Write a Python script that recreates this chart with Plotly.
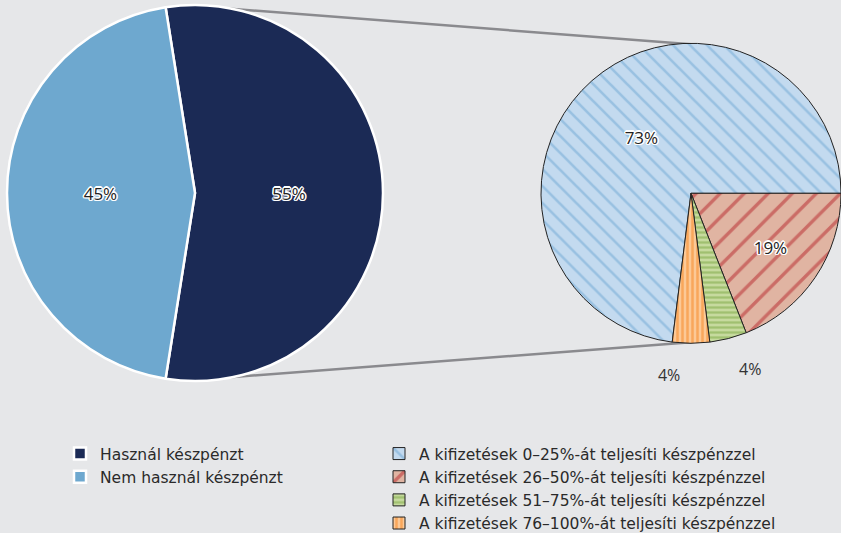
import plotly.graph_objects as go

# ---- data ----
main_labels = ["Használ készpénzt", "Nem használ készpénzt"]
main_values = [55, 45]
main_colors = ["#1b2a55", "#6ea8cf"]

sub_labels = [
    "A kifizetések 0–25%-át teljesíti készpénzzel",
    "A kifizetések 26–50%-át teljesíti készpénzzel",
    "A kifizetések 51–75%-át teljesíti készpénzzel",
    "A kifizetések 76–100%-át teljesíti készpénzzel",
]
sub_values = [73, 19, 4, 4]
sub_bg = ["#c3daef", "#e0b4a2", "#c6da9e", "#fcc996"]
sub_fg = ["#6fa8d4", "#b5232a", "#7aa542", "#f5861f"]
sub_shapes = ["\\", "/", "-", "|"]

W, H = 841, 533
BG = "#e6e7e9"
TXT = "#2a2a2a"

# pie geometry (pixels)
L_cx, L_cy, L_r = 195, 193, 188
R_x0, R_x1 = 541, 841
R_r = (R_x1 - R_x0) / 2
R_cx = (R_x0 + R_x1) / 2
R_cy = 193.3

def px_x(x):
    return x / W

def px_y(y):
    return 1 - y / H

halo = "-1px -1px 0 #fff, 1px -1px 0 #fff, -1px 1px 0 #fff, 1px 1px 0 #fff, 0 1.5px 0 #fff, 0 -1.5px 0 #fff, 1.5px 0 0 #fff, -1.5px 0 0 #fff"

fig = go.Figure()

fig.add_trace(go.Pie(
    labels=main_labels, values=main_values, sort=False, direction="clockwise",
    rotation=-9,
    marker=dict(colors=main_colors, line=dict(color="white", width=2.5)),
    textinfo="percent", textposition="inside", insidetextorientation="horizontal",
    textfont=dict(family="Open Sans", size=17, color="#222", shadow=halo),
    domain=dict(x=[px_x(L_cx - L_r), px_x(L_cx + L_r)], y=[px_y(L_cy + L_r), px_y(L_cy - L_r)]),
    legend="legend", hoverinfo="label+percent",
))

fig.add_trace(go.Pie(
    labels=sub_labels, values=sub_values, sort=False, direction="clockwise",
    rotation=360 + 90 - 360 * sub_values[0] / 100,
    marker=dict(colors=sub_bg, line=dict(color="#222", width=1),
                pattern=dict(shape=sub_shapes, fgcolor=sub_fg, fillmode="overlay",
                             size=[12, 17, 5, 5], solidity=[0.22, 0.2, 0.45, 0.5])),
    texttemplate=["%{percent}", "%{percent}", "\u00a0<br>%{percent}", "\u00a0<br>%{percent}"],
    textposition=["inside", "inside", "outside", "outside"],
    insidetextorientation="horizontal",
    insidetextfont=dict(family="Open Sans", size=17, color="#222", shadow=halo),
    outsidetextfont=dict(family="Open Sans", size=16, color="#333"),
    domain=dict(x=[px_x(R_x0), px_x(R_x1)], y=[px_y(R_cy + R_r + 2), px_y(R_cy - R_r - 2)]),
    legend="legend2", hoverinfo="label+percent",
))

line_style = dict(color="#8a8a8e", width=2.5)
fig.add_shape(type="line", xref="paper", yref="paper", layer="below",
              x0=px_x(L_cx), y0=px_y(L_cy - L_r + 1), x1=px_x(R_cx), y1=px_y(R_cy - R_r + 1),
              line=line_style)
fig.add_shape(type="line", xref="paper", yref="paper", layer="below",
              x0=px_x(L_cx), y0=px_y(L_cy + L_r - 1), x1=px_x(R_cx), y1=px_y(R_cy + R_r - 1),
              line=line_style)

legend_font = dict(family="DejaVu Sans", size=15.5, color=TXT)
fig.update_layout(
    width=W, height=H,
    margin=dict(l=0, r=0, t=0, b=0, autoexpand=False),
    paper_bgcolor=BG, plot_bgcolor=BG,
    legend=dict(x=px_x(60), y=px_y(437), xanchor="left", yanchor="top",
                font=legend_font, bgcolor="rgba(0,0,0,0)", tracegroupgap=0),
    legend2=dict(x=px_x(379), y=px_y(437), xanchor="left", yanchor="top",
                 font=legend_font, bgcolor="rgba(0,0,0,0)", tracegroupgap=0),
)

fig.write_html("out.html", config={"displayModeBar": False},
               post_script="document.body.style.margin='0';")
